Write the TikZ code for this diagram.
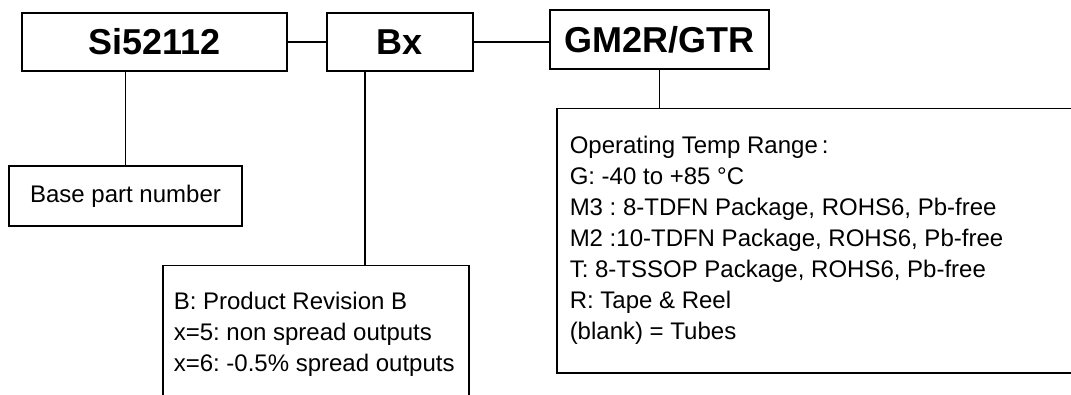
\documentclass[tikz,border=0pt]{standalone}
\usepackage{fontspec}
\setmainfont{Liberation Sans}
\usepackage{tikz}
\usetikzlibrary{calc}
\frenchspacing
\tikzset{
   part node/.style={rectangle,draw,line width=1.5pt,inner sep=0pt,font=\fontsize{36}{40}\selectfont\bfseries},
   info node/.style={rectangle,draw,line width=1.5pt,inner sep=0pt,font=\fontsize{24}{31}\selectfont},
   info text/.style={anchor=north west,align=left,inner sep=0pt,font=\fontsize{24}{31}\selectfont}
}

\begin{document}
\begin{tikzpicture}[x=1pt,y=-1pt,line width=1.5pt]
\useasboundingbox (0,0) rectangle (1071,395);
\clip (0,0) rectangle (1071,395);
% part number fields
\node[part node,minimum width=265pt,minimum height=58pt] (si) at (154.5,42) {Si52112};
\node[part node,minimum width=146pt,minimum height=58pt] (bx) at (400,42) {Bx};
\node[part node,minimum width=219pt,minimum height=59pt] (gm) at (659.5,39.5) {GM2R/GTR};
% descriptions
\node[info node,minimum width=233pt,minimum height=60pt] (base) at (125.5,196) {Base part number};
\node[info node,anchor=north west,minimum width=306pt,minimum height=160pt] (rev) at (162,265) {};
\node[info text] (revtext) at ($ (rev.north west) + (11,26.5) $)
  {B: Product Revision B\\ x=5: non spread outputs\\ x=6: -0.5\% spread outputs};
\node[info node,anchor=north west,minimum width=560pt,minimum height=264pt] (temp) at (556,108) {};
\node[info text] (temptext) at ($ (temp.north west) + (13,27.5) $)
  {Operating Temp Range\,:\\ G: -40 to +85 °C\\ M3 : 8-TDFN Package, ROHS6, Pb-free\\
   M2 :10-TDFN Package, ROHS6, Pb-free\\ T: 8-TSSOP Package, ROHS6, Pb-free\\
   R: Tape \& Reel\\ (blank) = Tubes};
%
\coordinate (bxdrop) at ($ (bx.south) + (-35,0) $);
\draw (si.east) -- (bx.west);
\draw (bx.east) -- (bx.east -| gm.west);
\draw (si.south -| base.north) -- (base.north);
\draw (bxdrop) -- (bxdrop |- rev.north);
\draw (gm.south) -- (gm.south |- temp.north);
\end{tikzpicture}
\end{document}
